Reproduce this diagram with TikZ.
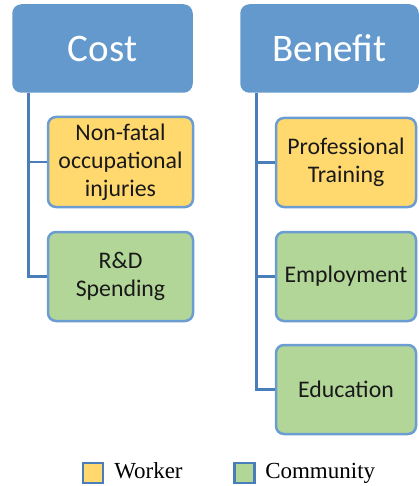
\documentclass[tikz,border=0pt]{standalone}
\usepackage{fontspec}
\setmainfont{Carlito}
\newfontfamily\legendfont{Liberation Serif}
\usetikzlibrary{positioning}
\definecolor{headblue}{HTML}{6399CC}
\definecolor{edgeblue}{HTML}{6C9DD2}
\definecolor{linkblue}{HTML}{4A7EBB}
\definecolor{workeryellow}{HTML}{FFD86E}
\definecolor{communitygreen}{HTML}{B2D698}
\tikzset{
  head/.style={fill=headblue, draw=headblue, text=white, font=\fontsize{39}{47}\selectfont},
  worker/.style={fill=workeryellow},
  community/.style={fill=communitygreen},
  link/.style={draw=linkblue, line width=2.6pt},
  keybox/.style={draw=linkblue, line width=2.4pt, minimum size=20pt, inner sep=0pt},
  legendtext/.style={anchor=base west, inner sep=0pt, font=\legendfont\fontsize{23}{27}\selectfont}
}
\begin{document}
\begin{tikzpicture}[x=1pt, y=-1pt, line width=2.5pt]
\useasboundingbox (0,0) rectangle (418,486);
   \begin{scope}[every node/.style={rounded corners=8pt, draw=edgeblue, align=center, inner sep=0pt, text=black!90, font=\fontsize{23.8}{28}\selectfont}]
\node [head, minimum width=178pt, minimum height=86pt] (cost) at (102.5,48.5) {Cost};
\node [head, minimum width=176pt, minimum height=86pt] (benefit) at (329.5,48.5) {Benefit};

\node [worker, minimum width=145pt, minimum height=90pt] (injuries) at (120.5,162) {Non-fatal\\occupational\\injuries};
\node [community, minimum width=145pt, minimum height=89pt] (spending) at (120.5,276.5) {R\&D\\Spending};

\node [worker, minimum width=140pt, minimum height=89pt] (training) at (346,162.5) {Professional\\Training};
\node [community, minimum width=140pt, minimum height=89pt] (employment) at (346,276.5) {Employment};
\node [community, minimum width=140pt, minimum height=89pt] (education) at (346,389.5) {Education};
  \end{scope}

\foreach \n in {injuries,spending}
       \draw [link] ([xshift=16pt]cost.south west) |- (\n.west);
\foreach \n in {training,employment,education}
       \draw [link] ([xshift=16pt]benefit.south west) |- (\n.west);

% legend
\node [keybox, worker] (workerkey) at (93,473) {};
\node [keybox, community] (communitykey) at (244.5,473) {};
\node [legendtext] (workerlabel) at (113,478) {Worker};
\node [legendtext] (communitylabel) at (264,478) {Community};
\end{tikzpicture}
\end{document}
